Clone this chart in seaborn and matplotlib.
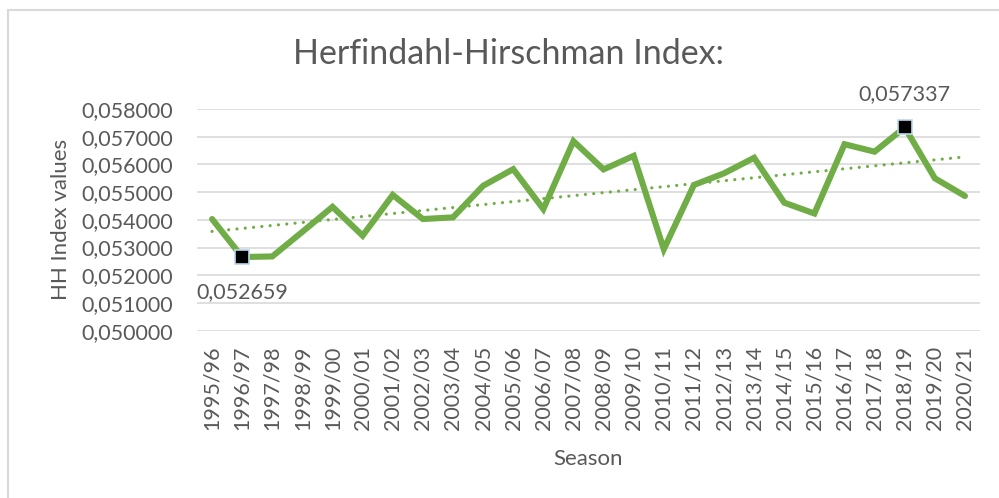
import numpy as np
import pandas as pd
import seaborn as sns
import matplotlib.pyplot as plt
from matplotlib.ticker import FuncFormatter
from matplotlib.lines import Line2D

# Seasons and HH index values
seasons = ['1995/96', '1996/97', '1997/98', '1998/99', '1999/00', '2000/01',
           '2001/02', '2002/03', '2003/04', '2004/05', '2005/06', '2006/07',
           '2007/08', '2008/09', '2009/10', '2010/11', '2011/12', '2012/13',
           '2013/14', '2014/15', '2015/16', '2016/17', '2017/18', '2018/19',
           '2019/20', '2020/21']
hh_values = [0.05403, 0.052659, 0.05268, 0.05357, 0.05447, 0.05343,
             0.05490, 0.05403, 0.05409, 0.05523, 0.05583, 0.05439,
             0.05684, 0.05582, 0.05631, 0.05294, 0.05526, 0.05568,
             0.05624, 0.05462, 0.05423, 0.05673, 0.05646, 0.057337,
             0.05550, 0.05486]
y_ticks = [0.050, 0.051, 0.052, 0.053, 0.054, 0.055, 0.056, 0.057, 0.058]

# highlighted min / max points
marked = ['1996/97', '2018/19']

df = pd.DataFrame({'Season': seasons, 'HH': hh_values})
df['pos'] = np.arange(len(df))

sns.set_style('white')
plt.rcParams['font.family'] = ['Lato', 'DejaVu Sans']
text_col = '#595959'
green = '#70AD47'

fig = plt.figure(figsize=(9.99, 4.98), dpi=100)
ax = fig.add_axes([0.1972, 0.3359, 0.7838, 0.4452])

# outer chart frame (top and left edges visible)
fig.add_artist(Line2D([0.0085, 1.0], [0.9790, 0.9790], color='#D9D9D9', lw=1.5,
                      transform=fig.transFigure))
fig.add_artist(Line2D([0.0085, 0.0085], [0.0, 0.9790], color='#D9D9D9', lw=1.5,
                      transform=fig.transFigure))

# linear trend line (dotted)
sns.regplot(data=df, x='pos', y='HH', ax=ax, scatter=False, ci=None,
            color=green,
            line_kws={'lw': 2.3, 'ls': (0, (0.01, 2.6)), 'dash_capstyle': 'round'})

sns.lineplot(data=df, x='pos', y='HH', ax=ax, color=green, lw=4.4,
             solid_joinstyle='miter')

mk = df[df['Season'].isin(marked)]
ax.plot(mk['pos'], mk['HH'], ls='none', marker='s', ms=9.5,
        mfc='black', mec='#BDD7EE', mew=1.2, zorder=5)

# data labels
for _, r in mk.iterrows():
    label = f"{r['HH']:.6f}".replace('.', ',')
    if r['HH'] < 0.055:
        ax.annotate(label, (r['pos'], r['HH']), xytext=(0, -25),
                    textcoords='offset points', ha='center', va='center',
                    fontsize=15.5, color=text_col)
    else:
        ax.annotate(label, (r['pos'], r['HH']), xytext=(0, 24),
                    textcoords='offset points', ha='center', va='center',
                    fontsize=15.5, color=text_col)

ax.set_xlim(-0.5, len(seasons) - 0.5)
ax.set_ylim(0.050, 0.058)
ax.set_yticks(y_ticks)
ax.yaxis.set_major_formatter(FuncFormatter(lambda v, p: f"{v:.6f}".replace('.', ',')))
ax.set_xticks(df['pos'])
ax.set_xticklabels(seasons, rotation=90)
ax.tick_params(axis='both', length=0, labelsize=15.5, labelcolor=text_col)
ax.tick_params(axis='x', pad=11)
ax.tick_params(axis='y', pad=17)
ax.grid(axis='y', color='#D9D9D9', lw=1.2)
ax.set_axisbelow(True)
for s in ax.spines.values():
    s.set_visible(False)

ax.set_xlabel('Season', fontsize=16, color=text_col, labelpad=13)
ax.set_ylabel('HH Index values', fontsize=16, color=text_col, labelpad=8)
fig.text(0.509, 0.891, 'Herfindahl-Hirschman Index:', ha='center', va='center',
         fontsize=24.5, color=text_col)

plt.savefig('out.png', dpi=100)
